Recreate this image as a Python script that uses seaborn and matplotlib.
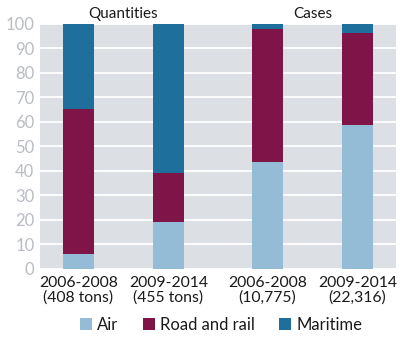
import matplotlib
matplotlib.use("Agg")
import matplotlib.pyplot as plt
import seaborn as sns
import pandas as pd
import numpy as np
from matplotlib.patches import Patch

# Shares (%) by transport mode for each period
periods = ["2006-2008\n(408 tons)", "2009-2014\n(455 tons)", "2006-2008\n(10,775)", "2009-2014\n(22,316)"]
groups = ["Quantities", "Cases"]
air = [6.3, 19.0, 43.5, 58.6]
road_rail = [59.2, 20.2, 54.3, 37.6]
maritime = [34.5, 60.8, 2.2, 3.8]

modes = ["Air", "Road and rail", "Maritime"]
colors = {"Air": "#95bcd6", "Road and rail": "#7e1447", "Maritime": "#1f6f9c"}

positions = [0.0, 1.0, 2.1, 3.1]
width = 0.344

sns.set_style("white")
plt.rcParams["font.family"] = ["Lato", "DejaVu Sans"]

fig = plt.figure(figsize=(4.02, 3.37), dpi=100)
ax = fig.add_axes([0.0995, 0.2018, 0.8855, 0.727])
ax.set_facecolor("#dcdfe3")

cum_air = np.array(air)
cum_road = cum_air + np.array(road_rail)
cum_mar = cum_road + np.array(maritime)

layers = [("Maritime", cum_mar), ("Road and rail", cum_road), ("Air", cum_air)]
for mode, tops in layers:
    df = pd.DataFrame({"pos": positions, "value": tops})
    sns.barplot(data=df, x="pos", y="value", native_scale=True, width=width,
                color=colors[mode], saturation=1, ax=ax, linewidth=0, zorder=3)

ax.set_ylim(0, 100)
ax.set_xlim(-0.428, 3.528)
ax.set_yticks(range(0, 101, 10))
ax.yaxis.grid(True, color="white", linewidth=1.3, zorder=1)
ax.set_axisbelow(True)
for s in ax.spines.values():
    s.set_visible(False)
ax.tick_params(axis="both", length=0)
ax.tick_params(axis="y", labelcolor="#b9bdc3", labelsize=12, pad=4)
ax.set_xticks(positions)
ax.set_xticklabels(periods, fontsize=11.3, color="#1a1a1a", linespacing=1.0)
ax.tick_params(axis="x", pad=5)
ax.set_xlabel("")
ax.set_ylabel("")

# Group titles above each pair of bars
ax.text(np.mean(positions[:2]), 101.2, groups[0], ha="center", va="bottom",
        fontsize=11, color="#1a1a1a")
ax.text(np.mean(positions[2:]), 101.2, groups[1], ha="center", va="bottom",
        fontsize=11, color="#1a1a1a")

handles = [Patch(facecolor=colors[m], edgecolor="none") for m in modes]
fig.legend(handles, modes, loc="center", bbox_to_anchor=(0.55, 0.036), ncol=3,
           frameon=False, fontsize=12, handlelength=0.7, handleheight=0.7,
           handletextpad=0.3, columnspacing=1.5, labelcolor="#1a1a1a")

fig.savefig("out.png", dpi=100)
